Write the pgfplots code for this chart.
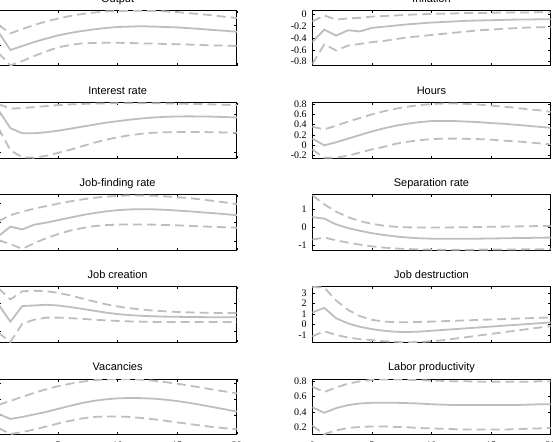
\documentclass[border=0pt]{standalone}
\usepackage{fontspec}
\setmainfont{Liberation Sans}
\newfontfamily\serifnum{Liberation Serif}
\usepackage{pgfplots}
\pgfplotsset{compat=1.18}
\definecolor{irfgray}{RGB}{190,190,190}
\newcommand\titlefont{\fontsize{11}{13}\selectfont}
\newcommand\tickfont{\serifnum\fontsize{10}{11}\selectfont}
\pgfplotsset{
  irf/.style={width=238.3pt, height=55.3pt, scale only axis, anchor=south west,
    xmin=0, xmax=20, xtick={0,5,10,15,20}, xticklabels={},
    tick align=inside, major tick length=2.5pt,
    axis line style={line width=1pt},
    every tick/.style={black, line width=0.6pt},
    every axis title shift=0pt,
    title style={at={(0.5,1)}, anchor=base, yshift=8.3pt, font=\titlefont},
    yticklabel style={font=\tickfont, inner sep=0pt, xshift=-5.5pt},
    xticklabel style={font=\tickfont, yshift=-4pt},
  },
  leftcol/.style={irf, yticklabels={}},
  med/.style={irfgray, line width=1.8pt, solid},
  band/.style={irfgray, line width=1.8pt, dash pattern=on 9pt off 5pt},
}
\begin{document}
\begin{tikzpicture}
\path[use as bounding box] (0pt,0pt) rectangle (553pt,441pt);
% ---------------- left column ----------------
\begin{axis}[leftcol, at={(-1.5pt,375pt)}, title={Output}, ymin=-0.525, ymax=0.8575, ytick={-0.5,0,0.5}]
\addplot[med] coordinates {(0,0.325)(1,-0.125)(2,-0.025)(3,0.075)(4,0.16)(5,0.24)(6,0.3)(7,0.35)(8,0.39)(9,0.425)(10,0.45)(11,0.46)(12,0.47)(13,0.46)(14,0.45)(15,0.44)(16,0.42)(17,0.4)(18,0.375)(19,0.355)(20,0.33)};
\addplot[band] coordinates {(0,0.5)(1,0.29)(2,0.4)(3,0.5)(4,0.59)(5,0.66)(6,0.725)(7,0.775)(8,0.81)(9,0.84)(10,0.85)(11,0.855)(12,0.855)(13,0.85)(14,0.84)(15,0.82)(16,0.795)(17,0.77)(18,0.74)(19,0.705)(20,0.675)};
\addplot[band] coordinates {(0,-0.2)(1,-0.51)(2,-0.4)(3,-0.275)(4,-0.16)(5,-0.06)(6,0.0)(7,0.04)(8,0.05)(9,0.055)(10,0.055)(11,0.05)(12,0.04)(13,0.035)(14,0.025)(15,0.02)(16,0.01)(17,0.0)(18,-0.01)(19,-0.015)(20,-0.025)};
\end{axis}
\begin{axis}[leftcol, at={(-1.5pt,282.92pt)}, title={Interest rate}, ymin=-0.158, ymax=1.29, ytick={0,0.5,1}]
\addplot[med] coordinates {(0,1.097)(1,0.624)(2,0.492)(3,0.492)(4,0.518)(5,0.558)(6,0.61)(7,0.663)(8,0.716)(9,0.768)(10,0.808)(11,0.847)(12,0.879)(13,0.905)(14,0.921)(15,0.932)(16,0.934)(17,0.932)(18,0.926)(19,0.916)(20,0.905)};
\addplot[band] coordinates {(0,1.255)(1,1.137)(2,1.15)(3,1.176)(4,1.203)(5,1.229)(6,1.247)(7,1.26)(8,1.268)(9,1.274)(10,1.276)(11,1.276)(12,1.276)(13,1.276)(14,1.274)(15,1.268)(16,1.26)(17,1.255)(18,1.247)(19,1.239)(20,1.229)};
\addplot[band] coordinates {(0,0.624)(1,0.045)(2,-0.139)(3,-0.147)(4,-0.1)(5,-0.021)(6,0.058)(7,0.15)(8,0.242)(9,0.321)(10,0.387)(11,0.439)(12,0.479)(13,0.505)(14,0.518)(15,0.526)(16,0.526)(17,0.524)(18,0.518)(19,0.513)(20,0.505)};
\end{axis}
\begin{axis}[leftcol, at={(-1.5pt,190.84pt)}, title={Job-finding rate}, ymin=-0.237, ymax=1.218, ytick={0,0.5,1}]
\addplot[med] coordinates {(0,0.132)(1,0.382)(2,0.308)(3,0.434)(4,0.487)(5,0.553)(6,0.618)(7,0.684)(8,0.737)(9,0.782)(10,0.816)(11,0.834)(12,0.842)(13,0.837)(14,0.824)(15,0.805)(16,0.784)(17,0.76)(18,0.737)(19,0.711)(20,0.684)};
\addplot[band] coordinates {(0,0.526)(1,0.684)(2,0.776)(3,0.855)(4,0.921)(5,0.987)(6,1.045)(7,1.097)(8,1.139)(9,1.171)(10,1.192)(11,1.203)(12,1.203)(13,1.195)(14,1.179)(15,1.158)(16,1.132)(17,1.097)(18,1.061)(19,1.018)(20,0.974)};
\addplot[band] coordinates {(0,0.026)(1,-0.079)(2,-0.203)(3,-0.053)(4,0.079)(5,0.184)(6,0.276)(7,0.342)(8,0.395)(9,0.421)(10,0.434)(11,0.439)(12,0.439)(13,0.434)(14,0.426)(15,0.416)(16,0.403)(17,0.389)(18,0.376)(19,0.366)(20,0.355)};
\end{axis}
\begin{axis}[leftcol, at={(-1.5pt,98.76pt)}, title={Job creation}, ymin=-0.423, ymax=1.622, ytick={0,1}]
\addplot[med] coordinates {(0,0.974)(1,0.337)(2,0.918)(3,0.936)(4,0.963)(5,0.936)(6,0.88)(7,0.813)(8,0.742)(9,0.674)(10,0.618)(11,0.581)(12,0.554)(13,0.536)(14,0.524)(15,0.517)(16,0.51)(17,0.506)(18,0.502)(19,0.498)(20,0.498)};
\addplot[band] coordinates {(0,1.573)(1,1.161)(2,1.461)(3,1.479)(4,1.461)(5,1.404)(6,1.311)(7,1.199)(8,1.086)(9,0.981)(10,0.899)(11,0.835)(12,0.787)(13,0.749)(14,0.719)(15,0.697)(16,0.682)(17,0.67)(18,0.663)(19,0.659)(20,0.655)};
\addplot[band] coordinates {(0,-0.075)(1,-0.412)(2,0.262)(3,0.412)(4,0.487)(5,0.487)(6,0.468)(7,0.442)(8,0.412)(9,0.386)(10,0.363)(11,0.348)(12,0.337)(13,0.33)(14,0.326)(15,0.322)(16,0.322)(17,0.322)(18,0.322)(19,0.322)(20,0.322)};
\end{axis}
\begin{axis}[leftcol, at={(-1.5pt,6.68pt)}, title={Vacancies}, ymin=-0.61, ymax=1.13, ytick={0,0.5,1}, xticklabels={0,5,10,15,20}]
\addplot[med] coordinates {(0,0.032)(1,-0.127)(2,-0.063)(3,0.016)(4,0.095)(5,0.19)(6,0.285)(7,0.373)(8,0.443)(9,0.491)(10,0.522)(11,0.532)(12,0.528)(13,0.513)(14,0.48)(15,0.437)(16,0.38)(17,0.316)(18,0.247)(19,0.177)(20,0.104)};
\addplot[band] coordinates {(0,0.316)(1,0.443)(2,0.57)(3,0.696)(4,0.807)(5,0.902)(6,0.981)(7,1.044)(8,1.092)(9,1.117)(10,1.127)(11,1.123)(12,1.108)(13,1.076)(14,1.032)(15,0.981)(16,0.924)(17,0.861)(18,0.797)(19,0.737)(20,0.68)};
\addplot[band] coordinates {(0,-0.411)(1,-0.601)(2,-0.538)(3,-0.459)(4,-0.364)(5,-0.269)(6,-0.184)(7,-0.111)(8,-0.063)(9,-0.047)(10,-0.047)(11,-0.063)(12,-0.095)(13,-0.136)(14,-0.184)(15,-0.234)(16,-0.285)(17,-0.335)(18,-0.38)(19,-0.418)(20,-0.453)};
\end{axis}
% ---------------- right column ----------------
\begin{axis}[irf, at={(312.3pt,375pt)}, title={Inflation}, ymin=-0.873, ymax=0.06, ytick={-0.8,-0.6,-0.4,-0.2,0}, yticklabels={-0.8,-0.6,-0.4,-0.2,0}]
\addplot[med] coordinates {(0,-0.47)(1,-0.26)(2,-0.36)(3,-0.27)(4,-0.29)(5,-0.23)(6,-0.21)(7,-0.19)(8,-0.17)(9,-0.155)(10,-0.14)(11,-0.13)(12,-0.12)(13,-0.11)(14,-0.105)(15,-0.1)(16,-0.095)(17,-0.09)(18,-0.09)(19,-0.085)(20,-0.085)};
\addplot[band] coordinates {(0,-0.12)(1,-0.02)(2,-0.09)(3,-0.07)(4,-0.06)(5,-0.04)(6,-0.03)(7,-0.02)(8,-0.01)(9,0)(10,0.005)(11,0.01)(12,0.015)(13,0.02)(14,0.02)(15,0.025)(16,0.03)(17,0.03)(18,0.03)(19,0.035)(20,0.035)};
\addplot[band] coordinates {(0,-0.84)(1,-0.51)(2,-0.61)(3,-0.53)(4,-0.5)(5,-0.47)(6,-0.45)(7,-0.42)(8,-0.39)(9,-0.37)(10,-0.35)(11,-0.33)(12,-0.31)(13,-0.29)(14,-0.27)(15,-0.26)(16,-0.245)(17,-0.235)(18,-0.225)(19,-0.22)(20,-0.215)};
\end{axis}
\begin{axis}[irf, at={(312.3pt,282.92pt)}, title={Hours}, ymin=-0.247, ymax=0.825, ytick={-0.2,0,0.2,0.4,0.6,0.8}, yticklabels={-0.2,0,0.2,0.4,0.6,0.8}]
\addplot[med] coordinates {(0,0.13)(1,0.0)(2,0.06)(3,0.13)(4,0.2)(5,0.27)(6,0.33)(7,0.38)(8,0.42)(9,0.45)(10,0.47)(11,0.47)(12,0.47)(13,0.46)(14,0.45)(15,0.43)(16,0.42)(17,0.4)(18,0.38)(19,0.36)(20,0.34)};
\addplot[band] coordinates {(0,0.36)(1,0.31)(2,0.38)(3,0.46)(4,0.53)(5,0.6)(6,0.66)(7,0.71)(8,0.75)(9,0.78)(10,0.8)(11,0.81)(12,0.81)(13,0.8)(14,0.79)(15,0.77)(16,0.75)(17,0.73)(18,0.7)(19,0.68)(20,0.65)};
\addplot[band] coordinates {(0,-0.08)(1,-0.24)(2,-0.24)(3,-0.2)(4,-0.14)(5,-0.08)(6,-0.03)(7,0.03)(8,0.07)(9,0.1)(10,0.12)(11,0.13)(12,0.13)(13,0.125)(14,0.12)(15,0.11)(16,0.09)(17,0.08)(18,0.06)(19,0.04)(20,0.02)};
\end{axis}
\begin{axis}[irf, at={(312.3pt,190.84pt)}, title={Separation rate}, ymin=-1.26, ymax=1.77, ytick={-1,0,1}, yticklabels={-1,0,1}]
\addplot[med] coordinates {(0,0.55)(1,0.47)(2,0.15)(3,-0.05)(4,-0.2)(5,-0.33)(6,-0.43)(7,-0.51)(8,-0.57)(9,-0.61)(10,-0.63)(11,-0.64)(12,-0.64)(13,-0.64)(14,-0.63)(15,-0.62)(16,-0.61)(17,-0.6)(18,-0.59)(19,-0.58)(20,-0.57)};
\addplot[band] coordinates {(0,1.75)(1,1.25)(2,0.85)(3,0.55)(4,0.33)(5,0.18)(6,0.08)(7,0.02)(8,-0.01)(9,-0.02)(10,-0.02)(11,-0.02)(12,-0.01)(13,0)(14,0.01)(15,0.02)(16,0.03)(17,0.04)(18,0.05)(19,0.06)(20,0.07)};
\addplot[band] coordinates {(0,-0.68)(1,-0.57)(2,-0.72)(3,-0.85)(4,-0.96)(5,-1.05)(6,-1.12)(7,-1.17)(8,-1.2)(9,-1.22)(10,-1.23)(11,-1.235)(12,-1.235)(13,-1.235)(14,-1.23)(15,-1.23)(16,-1.225)(17,-1.22)(18,-1.215)(19,-1.21)(20,-1.2)};
\end{axis}
\begin{axis}[irf, at={(312.3pt,98.76pt)}, title={Job destruction}, ymin=-1.7, ymax=3.6, ytick={-1,0,1,2,3}, yticklabels={-1,0,1,2,3}]
\addplot[med] coordinates {(0,1.15)(1,1.6)(2,0.6)(3,0.1)(4,-0.22)(5,-0.44)(6,-0.6)(7,-0.7)(8,-0.72)(9,-0.68)(10,-0.6)(11,-0.52)(12,-0.44)(13,-0.36)(14,-0.28)(15,-0.2)(16,-0.12)(17,-0.04)(18,0.04)(19,0.12)(20,0.2)};
\addplot[band] coordinates {(0,3.6)(1,3.55)(2,2.3)(3,1.4)(4,0.8)(5,0.45)(6,0.28)(7,0.22)(8,0.22)(9,0.25)(10,0.28)(11,0.32)(12,0.36)(13,0.4)(14,0.44)(15,0.48)(16,0.52)(17,0.56)(18,0.6)(19,0.64)(20,0.68)};
\addplot[band] coordinates {(0,-1.13)(1,-0.65)(2,-1.0)(3,-1.25)(4,-1.4)(5,-1.5)(6,-1.6)(7,-1.65)(8,-1.7)(9,-1.68)(10,-1.6)(11,-1.5)(12,-1.35)(13,-1.2)(14,-1.05)(15,-0.9)(16,-0.75)(17,-0.6)(18,-0.45)(19,-0.3)(20,-0.15)};
\end{axis}
\begin{axis}[irf, at={(312.3pt,6.68pt)}, title={Labor productivity}, ymin=0.108, ymax=0.83, ytick={0.2,0.4,0.6,0.8}, yticklabels={0.2,0.4,0.6,0.8}, xticklabels={0,5,10,15,20}]
\addplot[med] coordinates {(0,0.46)(1,0.39)(2,0.45)(3,0.49)(4,0.51)(5,0.52)(6,0.52)(7,0.52)(8,0.515)(9,0.51)(10,0.5)(11,0.495)(12,0.49)(13,0.49)(14,0.49)(15,0.49)(16,0.49)(17,0.49)(18,0.495)(19,0.5)(20,0.5)};
\addplot[band] coordinates {(0,0.73)(1,0.66)(2,0.72)(3,0.77)(4,0.8)(5,0.82)(6,0.825)(7,0.825)(8,0.82)(9,0.815)(10,0.81)(11,0.805)(12,0.8)(13,0.8)(14,0.795)(15,0.795)(16,0.795)(17,0.795)(18,0.795)(19,0.8)(20,0.8)};
\addplot[band] coordinates {(0,0.22)(1,0.11)(2,0.16)(3,0.19)(4,0.205)(5,0.21)(6,0.21)(7,0.205)(8,0.2)(9,0.19)(10,0.185)(11,0.18)(12,0.175)(13,0.17)(14,0.17)(15,0.17)(16,0.17)(17,0.175)(18,0.18)(19,0.185)(20,0.19)};
\end{axis}
\end{tikzpicture}
\end{document}
